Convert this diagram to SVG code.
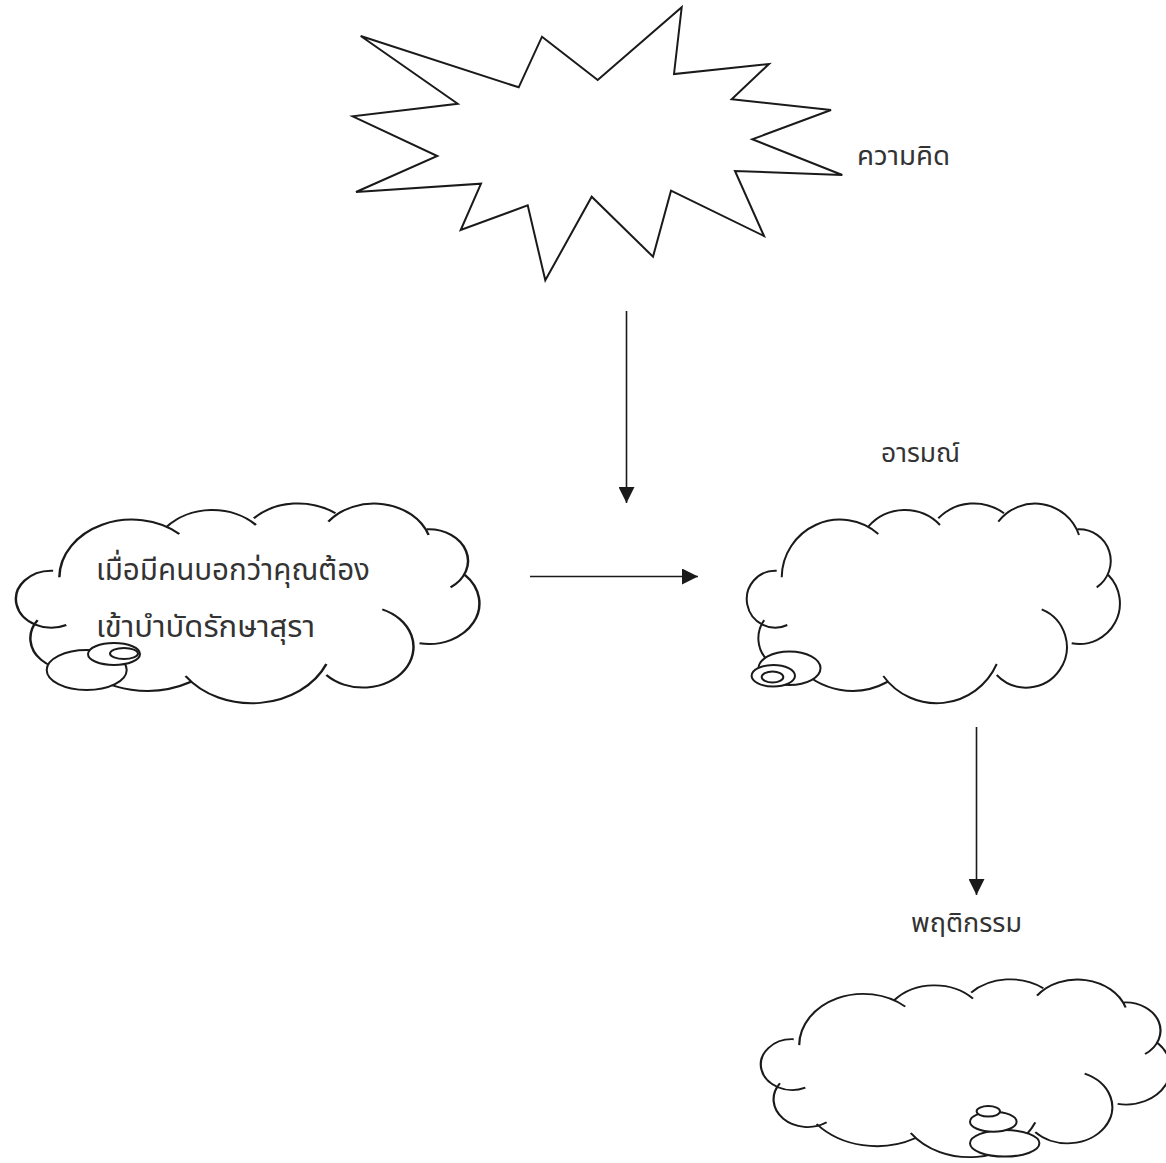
<svg xmlns="http://www.w3.org/2000/svg" width="1166" height="1163" viewBox="0 0 1166 1163">
<defs>
<style>
.ln{fill:none;stroke:#1a1a1a;stroke-width:2;stroke-linejoin:miter;stroke-linecap:butt}
.cl{fill:none;stroke:#1a1a1a;stroke-width:2;vector-effect:non-scaling-stroke}
.bub{fill:#fff;stroke:#1a1a1a;stroke-width:2}
.ar{fill:none;stroke:#1a1a1a;stroke-width:1.6}
.tx{font-family:"Noto Sans Thai","Noto Sans","DejaVu Sans",sans-serif;font-size:27px;fill:#333}
.tb{font-size:30px}
</style>
<marker id="ah" viewBox="0 0 16 16" refX="16" refY="8" markerWidth="16" markerHeight="16" markerUnits="userSpaceOnUse" orient="auto">
<path d="M0,0 L16,8 L0,16 Z" fill="#1a1a1a"/>
</marker>
<path id="cloud" d="M781.7,577.3 A58.3,58.3 0 0 1 878.3,534 M868.3,526.7 A48.7,48.7 0 0 1 940,525 M938.3,518.3 A50.3,50.3 0 0 1 1004,513.3 M998.3,521.7 A46.4,46.4 0 0 1 1079,535 M1077.7,529.3 A31.7,31.7 0 0 1 1096.7,587.3 M1108.3,575 A40.6,40.6 0 0 1 1071.7,643.3 M1041.7,609.3 A40.7,40.7 0 1 1 996.7,675 M996.7,664 A65.7,65.7 0 0 1 883.3,676 M887.2,682 A72.7,72.7 0 0 1 797.6,665.9 M806.7,664 A31,31 0 0 1 764.2,620.2 M787.3,625 A28.5,28.5 0 1 1 776.7,570.7"/>
</defs>
<rect width="1166" height="1163" fill="#fff"/>

<g id="thought">
<polygon class="ln" points="360.7,36 457.7,103.7 352.7,116.3 437.3,156 356,192 481,183.7 460.7,230 527.7,205.3 545.3,280.3 591.7,196.7 653,256.7 671,190.7 764,236 735,171 842.3,175 752.3,139.3 831,110 731.7,99.3 769,64 674,74 681.7,7.3 597.7,80 542,36.7 518.7,87.3"/>
<text class="tx" x="857" y="165" textLength="93" lengthAdjust="spacingAndGlyphs">ความคิด</text>
</g>

<g id="situation">
<use href="#cloud" class="cl" transform="translate(15,503) scale(1.242,1) translate(-746,-503)"/>
<ellipse class="bub" cx="86.7" cy="670" rx="40" ry="20"/>
<ellipse class="bub" cx="114" cy="654" rx="26" ry="11"/>
<ellipse class="bub" cx="124" cy="653.5" rx="14" ry="5.5"/>
<text class="tx tb" x="96" y="580" textLength="274" lengthAdjust="spacingAndGlyphs">เมื่อมีคนบอกว่าคุณต้อง</text>
<text class="tx tb" x="96" y="637" textLength="219" lengthAdjust="spacingAndGlyphs">เข้าบำบัดรักษาสุรา</text>
</g>

<g id="emotion">
<use href="#cloud" class="cl"/>
<ellipse class="bub" cx="789.5" cy="668.3" rx="31" ry="16.7"/>
<ellipse class="bub" cx="773.3" cy="675.8" rx="21.7" ry="10.8"/>
<ellipse class="bub" cx="772.5" cy="677" rx="10.8" ry="5.5"/>
<text class="tx" x="881" y="462" textLength="79" lengthAdjust="spacingAndGlyphs">อารมณ์</text>
</g>

<g id="behavior">
<use href="#cloud" class="cl" transform="translate(760,979) scale(1.098,0.89) translate(-746,-503)"/>
<ellipse class="bub" cx="1004.7" cy="1143.3" rx="34.7" ry="13.3"/>
<ellipse class="bub" cx="993.3" cy="1121.7" rx="23.3" ry="10"/>
<ellipse class="bub" cx="988.3" cy="1111.3" rx="11.7" ry="5.3"/>
<text class="tx" x="911" y="932" textLength="111" lengthAdjust="spacingAndGlyphs">พฤติกรรม</text>
</g>

<g id="connectors">
<line class="ar" x1="626.5" y1="311" x2="626.5" y2="503" marker-end="url(#ah)"/>
<line class="ar" x1="530" y1="576.5" x2="698" y2="576.5" marker-end="url(#ah)"/>
<line class="ar" x1="976.5" y1="727" x2="976.5" y2="895" marker-end="url(#ah)"/>
</g>
</svg>
